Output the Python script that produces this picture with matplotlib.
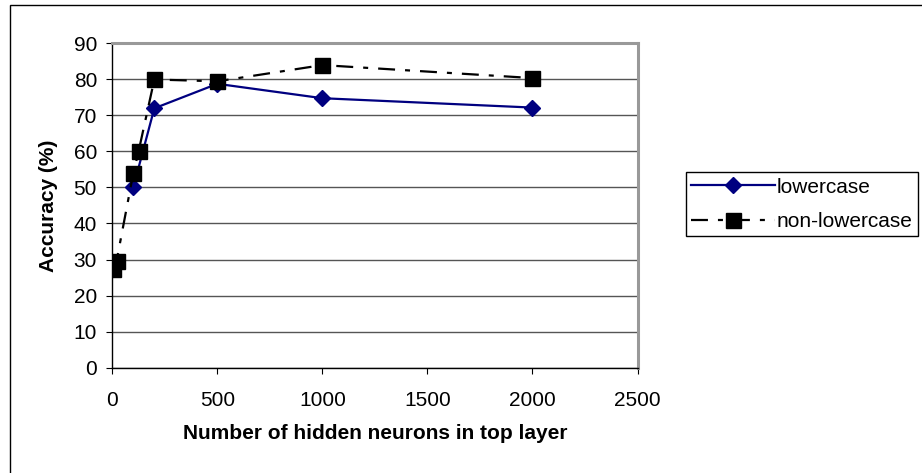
import matplotlib
matplotlib.use("Agg")
import matplotlib.pyplot as plt
from matplotlib.patches import Rectangle

# ---- data ----
x_lower = [100, 200, 500, 1000, 2000]
y_lower = [50.0, 72.0, 78.8, 74.8, 72.2]
x_non = [5, 20, 100, 125, 200, 500, 1000, 2000]
y_non = [27.3, 29.5, 54.0, 60.0, 80.0, 79.5, 84.0, 80.4]
label_lower = "lowercase"
label_non = "non-lowercase"
xticks = [0, 500, 1000, 1500, 2000, 2500]
yticks = [0, 10, 20, 30, 40, 50, 60, 70, 80, 90]
xlabel = "Number of hidden neurons in top layer"
ylabel = "Accuracy (%)"

plt.rcParams['font.family'] = ['Liberation Sans', 'DejaVu Sans']
plt.rcParams['lines.scale_dashes'] = False
FS = 15

W, H = 922, 473
fig = plt.figure(figsize=(W / 100, H / 100), dpi=100)
fig.patch.set_facecolor('white')

left, right = 112.3 / W, 637.5 / W
top, bottom = 1 - 43.5 / H, 1 - 367.5 / H
ax = fig.add_axes([left, bottom, right - left, top - bottom])

ax.plot(x_lower, y_lower, color='#000080', lw=1.6, marker='D', ms=8,
        mec='#000080', mfc='#000080', label=label_lower, zorder=3)
ax.plot(x_non, y_non, color='black', lw=1.6, marker='s', ms=10.8,
        mec='black', mfc='black', linestyle=(0, (12.2, 7.2, 3.6, 7.2)),
        label=label_non, zorder=4)

ax.set_xlim(0, 2500)
ax.set_ylim(0, 90)
ax.set_xticks(xticks)
ax.set_yticks(yticks)
ax.set_xticklabels([str(v) for v in xticks])
ax.set_yticklabels([str(v) for v in yticks])
ax.tick_params(axis='x', direction='out', length=4, width=0.8, pad=13,
               labelsize=FS, colors='black')
ax.tick_params(axis='y', direction='out', length=4, width=0.8, pad=7,
               labelsize=FS, colors='black')

ax.yaxis.grid(True, color='#555555', lw=1.0)
ax.set_axisbelow(True)

for s in ['left', 'bottom']:
    ax.spines[s].set_color('black')
    ax.spines[s].set_linewidth(1.0)
for s in ['top', 'right']:
    ax.spines[s].set_color('#999999')
    ax.spines[s].set_linewidth(2.2)

ax.set_xlabel(xlabel, fontsize=FS, fontweight='bold', labelpad=10)
ax.set_ylabel(ylabel, fontsize=FS, fontweight='bold', labelpad=11)

leg = ax.legend(loc='upper left', bbox_to_anchor=(686 / W, 1 - 172.3 / H),
                bbox_transform=fig.transFigure, borderaxespad=0,
                fontsize=FS, frameon=True, fancybox=False, shadow=False,
                edgecolor='black', framealpha=1, handlelength=4.0,
                handletextpad=0.1, labelspacing=0.75, borderpad=0.25)
leg.get_frame().set_linewidth(1.0)

# outer chart border (clipped on right and bottom)
fig.add_artist(Rectangle((10 / W, -0.2), 2.0, (1 - 4.5 / H) + 0.2,
                         transform=fig.transFigure, fill=False,
                         ec='black', lw=1.0, clip_on=False))

fig.savefig("out.png", dpi=100, facecolor='white')
